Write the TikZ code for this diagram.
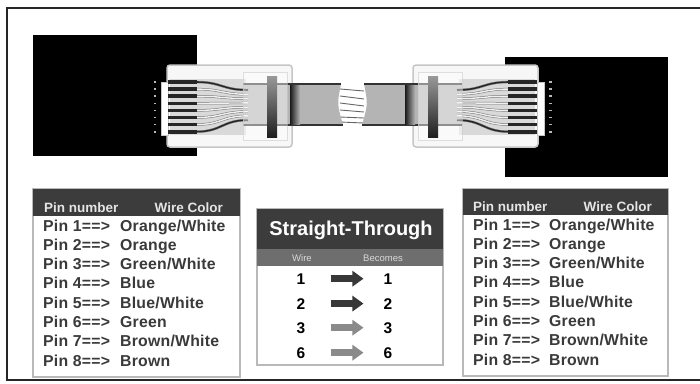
\documentclass[tikz,border=0pt]{standalone}
\usepackage{fontspec}
\setmainfont{Liberation Sans}
\newfontfamily\rowfont[LetterSpace=1.5]{Liberation Sans}
\usetikzlibrary{arrows.meta}
\definecolor{txtgray}{HTML}{3A3A3A}
\definecolor{hdrgray}{HTML}{3C3C3C}
\definecolor{subgray}{HTML}{6E6E6E}
\definecolor{jacket}{HTML}{B4B4B4}
\definecolor{arrdark}{HTML}{383838}
\definecolor{arrlight}{HTML}{8A8A8A}
\tikzset{
  rowtxt/.style={anchor=base west, inner sep=0pt, font=\rowfont\fontsize{15.8}{18}\selectfont\bfseries, text=txtgray},
  hdrtxt/.style={inner sep=0pt, font=\fontsize{13.5}{16}\selectfont\bfseries, text=gray!20},
  tablebox/.style={draw=gray!55, line width=1.2pt},
  numtxt/.style={anchor=base, inner sep=0pt, font=\fontsize{15.5}{18}\selectfont\bfseries, text=black},
  subtxt/.style={anchor=base, inner sep=0pt, font=\fontsize{9.5}{11}\selectfont, text=gray!30},
  blockarrow/.style={line width=7pt, -{Triangle[length=11pt,width=15pt]}, shorten <=25pt, shorten >=20pt},
}
\newcommand\myplug{%
  \draw[line width=1.5pt, draw=gray!45, fill=gray!6, rounded corners=3pt] (167,65) rectangle (292,147);
  \draw[draw=gray!45, fill=white, line width=1pt] (161,82) rectangle (168,135);
  \fill[gray!30] (170,79) rectangle (246,135);
  \fill[jacket] (243,84) -- (341,84) .. controls (337,104) .. (343,125) -- (243,125) -- cycle;
  \draw[line width=2pt, black!80] (243,84) -- (341,84);
  \draw[line width=2pt, black!80] (243,125) -- (343,125);
  \foreach \i in {0,...,7} {
    \pgfmathsetmacro\ya{82+\i*7.1}
    \pgfmathsetmacro\yb{90+\i*4.3}
    \draw[line width=0.5pt, draw=black!55, double=gray!12, double distance=1.4pt] (196,\ya) .. controls (222,\ya) and (222,\yb) .. (248,\yb);
    \draw[line width=3.6pt, black!85] (168,\ya) -- (197,\ya);
    \fill[gray!55] (153.5,\ya-0.8) rectangle (156,\ya+0.8);
  }
  \draw[line width=1.6pt, black!85] (196,82) .. controls (222,82) and (222,90) .. (248,90);
  \draw[line width=1.6pt, black!85] (196,131.7) .. controls (222,131.7) and (222,120.1) .. (248,120.1);
  \fill[white, opacity=0.45] (243,72) rectangle (287,140);
  \draw[gray!40, opacity=0.6] (243,72) rectangle (287,140);
  \shade[top color=black!40, bottom color=black!88] (267,76) rectangle (277,137);
  \shade[left color=black!90, right color=jacket] (290,85) rectangle (300,124);
}
\begin{document}
\begin{tikzpicture}[x=1pt,y=-1pt]
\useasboundingbox (0,0) rectangle (700,383);
\fill[white] (0,0) rectangle (700,383);
\draw[line width=2pt, black!85] (703,8) -- (7,8) -- (7,380) -- (703,380);

% black panels
\fill[black] (33,35) rectangle (197,156);
\fill[black] (505,57) rectangle (668,177);

% cable gap wires
\foreach \ya/\yb in {89/91, 96/99, 103/106, 110/112, 117/118, 122/123} {
  \draw[line width=0.9pt, black!60] (340,\ya) -- (364,\yb);
}

% plugs
\begin{scope}
  \myplug
\end{scope}
\begin{scope}[shift={(705,0)}, xscale=-1]
  \myplug
\end{scope}

% left table
\draw[tablebox] (33,189) rectangle (240,377);
\fill[hdrgray] (33,189) rectangle (240,216);
\node[hdrtxt, anchor=base west] (lh1) at (44,212) {Pin number};
\node[hdrtxt, anchor=base east] (lh2) at (223,212) {Wire Color};
\foreach \c [count=\k] in {Orange/White, Orange, Green/White, Blue, Blue/White, Green, Brown/White, Brown} {
  \node[rowtxt] (lp\k) at (43,{231+(\k-1)*19.3}) {Pin \k==>};
  \node[rowtxt] (lc\k) at (120,{231+(\k-1)*19.3}) {\c};
}

% right table
\draw[tablebox] (463,189) rectangle (668,376);
\fill[hdrgray] (463,189) rectangle (668,215);
\node[hdrtxt, anchor=base west] (rh1) at (473,211) {Pin number};
\node[hdrtxt, anchor=base east] (rh2) at (652,211) {Wire Color};
\foreach \c [count=\k] in {Orange/White, Orange, Green/White, Blue, Blue/White, Green, Brown/White, Brown} {
  \node[rowtxt] (rp\k) at (473,{230+(\k-1)*19.3}) {Pin \k==>};
  \node[rowtxt] (rc\k) at (549,{230+(\k-1)*19.3}) {\c};
}

% middle table
\draw[tablebox] (257,209) rectangle (443,365);
\fill[hdrgray] (257,209) rectangle (443,249);
\fill[subgray] (257,249) rectangle (443,266);
\node[anchor=base, inner sep=0pt, font=\fontsize{20}{22}\selectfont\bfseries, text=white] (title) at (351,235) {Straight-Through};
\node[subtxt] (sw) at (302,261) {Wire};
\node[subtxt] (sb) at (383,261) {Becomes};
\foreach \n/\yy/\cc in {1/284/arrdark, 2/309/arrdark, 3/333/arrlight, 6/358/arrlight} {
  \node[numtxt] (ml\n) at (301,\yy) {\n};
  \node[numtxt] (mr\n) at (388,\yy) {\n};
  \draw[blockarrow, \cc] (ml\n.east) -- (mr\n.west);
}
\end{tikzpicture}
\end{document}
